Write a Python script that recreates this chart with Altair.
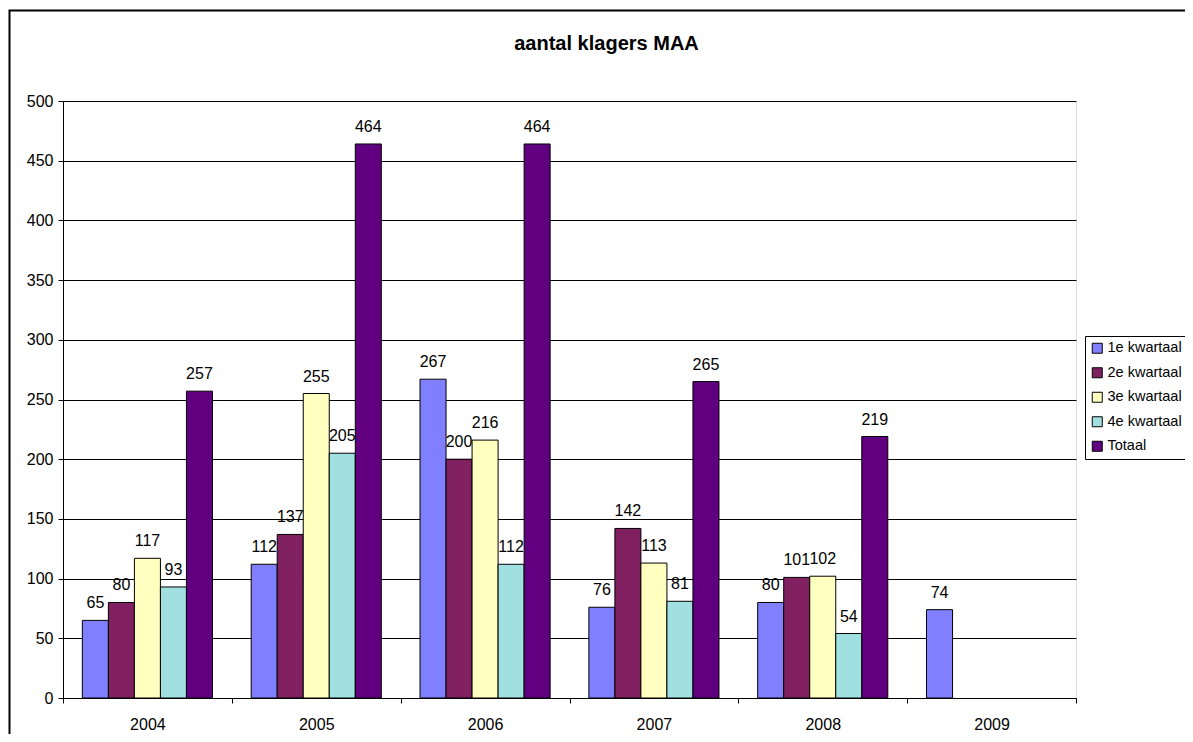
import altair as alt
import pandas as pd

years = ["2004", "2005", "2006", "2007", "2008", "2009"]
series = ["1e kwartaal", "2e kwartaal", "3e kwartaal", "4e kwartaal", "Totaal"]
colors = ["#8080FF", "#802060", "#FFFFC0", "#A0E0E0", "#600080"]

q1 = [65, 112, 267, 76, 80, 74]
q2 = [80, 137, 200, 142, 101, None]
q3 = [117, 255, 216, 113, 102, None]
q4 = [93, 205, 112, 81, 54, None]
totaal = [257, 464, 464, 265, 219, None]

rows = []
for s, vals in zip(series, [q1, q2, q3, q4, totaal]):
    for y, v in zip(years, vals):
        if v is not None:
            rows.append({"jaar": y, "reeks": s, "aantal": v})
df = pd.DataFrame(rows)

W, H = 1013, 597
FONT = "Liberation Sans"
FS = 16

x_enc = alt.X("jaar:N", sort=years,
              scale=alt.Scale(paddingInner=0, paddingOuter=0),
              axis=alt.Axis(title=None, labelAngle=0, labelFontSize=FS, labelFont=FONT,
                            labelColor="#000", domainColor="#000", tickColor="#000",
                            tickSize=5, tickBand="extent", grid=False, labelPadding=13))
xoff = alt.XOffset("reeks:N", sort=series, scale=alt.Scale(paddingInner=0, paddingOuter=0.744))
y_enc = alt.Y("aantal:Q", scale=alt.Scale(domain=[0, 500], nice=False),
              axis=alt.Axis(title=None, values=list(range(0, 501, 50)), labelFontSize=FS,
                            labelFont=FONT, labelColor="#000", domainColor="#000",
                            tickColor="#000", tickSize=5, gridColor="#000", gridWidth=1,
                            labelPadding=5))

base = alt.Chart(df)
bars = base.mark_bar(stroke="#000", strokeWidth=1).encode(
    x=x_enc, xOffset=xoff, y=y_enc,
    color=alt.Color("reeks:N", sort=series,
                    scale=alt.Scale(domain=series, range=colors),
                    legend=alt.Legend(title=None, orient="none", legendX=1022, legendY=235,
                                      symbolType="square", symbolSize=100,
                                      symbolStrokeColor="#000", symbolStrokeWidth=1,
                                      labelFontSize=14.5, labelFont=FONT, labelColor="#000",
                                      rowPadding=8.5, labelOffset=3, padding=5,
                                      strokeColor="#000", fillColor="#fff")),
)
labels = base.mark_text(fontSize=FS, font=FONT, color="#000", baseline="alphabetic", dy=-12).encode(
    x=alt.X("jaar:N", sort=years),
    xOffset=alt.XOffset("reeks:N", sort=series),
    y="aantal:Q",
    text="aantal:Q",
)
border = alt.Chart(pd.DataFrame({"a": [0]})).mark_rect(
    fill=None, stroke="#000", strokeWidth=2, clip=False
).encode(
    x=alt.value(-53.5), y=alt.value(-90.5), x2=alt.value(W + 300), y2=alt.value(H + 300)
)

chart = alt.layer(border, bars, labels).properties(
    width=W, height=H,
    title=alt.TitleParams("aantal klagers MAA", font=FONT, fontSize=20, fontWeight="bold",
                          color="#000", anchor="middle", dx=37, offset=-44),
    autosize=alt.AutoSizeParams(type="none"),
    padding={"left": 55, "top": 93, "right": 109, "bottom": 36},
).configure_view(stroke="#808080", strokeWidth=1).configure(background="#fff")

chart.save("out.html", embed_options={"renderer": "svg", "actions": False})
